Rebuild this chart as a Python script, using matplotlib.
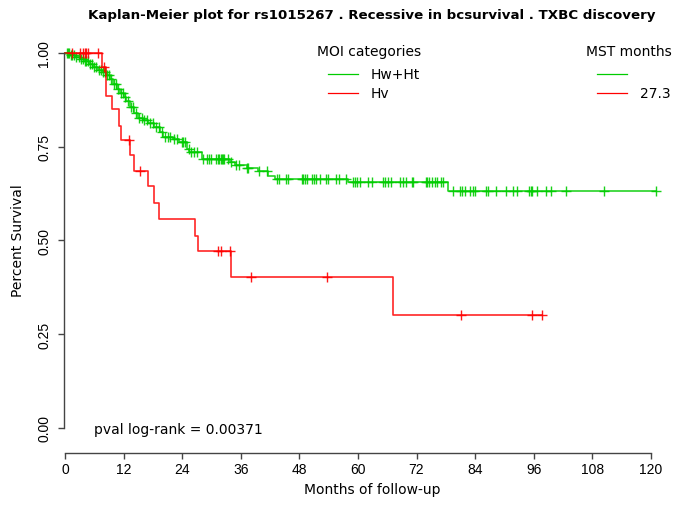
import numpy as np
import matplotlib.pyplot as plt
from matplotlib.lines import Line2D

plt.rcParams['font.family'] = ['DejaVu Sans']

# curva Hw+Ht: istanti dei gradini (mesi) e sopravvivenza dopo ogni gradino
green_t = [0, 1.0, 2.0, 3.0, 4.0, 5.0, 5.8, 6.8, 7.8, 8.5, 9.2, 9.9, 10.6, 11.3, 12.0,
           12.6, 13.4, 14.2, 15.0, 16.0, 17.0, 18.2, 19.5, 20.1, 22.2, 23.4, 24.9,
           25.5, 28.0, 33.8, 34.8, 37.2, 39.6, 41.6, 43.0, 58.0, 78.5]
green_s = [1.0, 0.995, 0.990, 0.984, 0.978, 0.970, 0.962, 0.955, 0.949, 0.940, 0.931,
           0.918, 0.904, 0.893, 0.883, 0.873, 0.856, 0.840, 0.826, 0.820, 0.812, 0.802,
           0.789, 0.777, 0.771, 0.762, 0.744, 0.737, 0.717, 0.708, 0.702, 0.692, 0.684,
           0.673, 0.663, 0.655, 0.633]
green_end = 121.0
green_cens = [0.4, 0.6, 0.9, 1.2, 1.5, 1.9, 2.3, 2.8, 3.2, 3.6, 4.0, 4.3, 4.7, 5.1, 5.5,
              6.0, 6.4, 6.9, 7.3, 7.8, 8.2, 8.7, 9.1, 9.5, 10.0, 10.4, 10.9, 11.4, 11.8,
              12.3, 12.9, 13.5, 14.0, 14.6, 15.1, 15.7, 16.2, 16.8, 17.4, 18.0, 18.6,
              19.2, 19.8, 20.4, 21.0, 21.6, 22.3, 23.0, 23.9, 24.2, 24.6, 25.3, 25.9,
              26.4, 27.0, 28.3, 29.0, 29.6, 30.0, 30.9, 31.4, 31.6, 31.9, 32.1, 32.3,
              32.6, 33.4, 34.1, 35.0, 35.7, 37.2, 37.5, 39.8, 41.4, 43.4, 43.9, 45.3,
              45.7, 48.5, 48.8, 49.1, 49.5, 50.5, 51.0, 51.4, 52.2, 53.4, 53.9, 55.6,
              56.2, 57.6, 58.9, 59.4, 59.9, 60.4, 62.1, 62.8, 65.2, 65.5, 66.2, 66.7,
              68.6, 69.3, 69.8, 71.0, 71.3, 73.9, 74.2, 74.6, 75.1, 75.8, 76.1, 77.0,
              77.5, 79.4, 81.0, 81.4, 81.9, 82.9, 83.6, 84.0, 86.2, 86.7, 88.3, 90.3,
              91.7, 92.5, 95.1, 95.4, 95.6, 96.7, 98.6, 99.5, 102.6, 110.4, 121.0]

# curva Hv
red_t = [0, 7.6, 8.5, 9.6, 11.0, 11.4, 13.3, 14.1, 17.1, 18.2, 19.3, 26.7, 27.3, 34.1, 67.1]
red_s = [1.0, 0.962, 0.886, 0.851, 0.806, 0.768, 0.728, 0.686, 0.645, 0.600, 0.557,
         0.513, 0.471, 0.403, 0.301]
red_end = 97.8
red_cens = [1.4, 3.1, 3.6, 4.1, 4.4, 4.8, 6.7, 8.0, 13.1, 15.4, 31.4, 31.9, 33.7, 38.2,
            53.6, 81.2, 95.6, 97.8]

groups = ['Hw+Ht', 'Hv']
mst = ['', '27.3']
colori = ['#00cc00', '#ff0000']
pval = 0.00371

W, H = 677, 506
fig = plt.figure(figsize=(W / 100, H / 100), dpi=100)

# assi in pixel: sinistra 64, destra 666, alto 39, basso 454
ax = fig.add_axes([64 / W, (H - 454) / H, (666 - 64) / W, (454 - 39) / H])
ax.set_xlim(-0.2, 123.1)
ax.set_ylim(-0.0667, 1.04)


def km(ax, t, s, end, cens, col):
    tt = list(t) + [end]
    ss = list(s) + [s[-1]]
    ax.step(tt, ss, where='post', color=col, lw=1.2, alpha=0.85)
    idx = np.searchsorted(np.array(t), np.array(cens), side='right') - 1
    ax.plot(cens, np.array(s)[idx], '+', color=col, ms=7, mew=1.0, alpha=0.9)


km(ax, green_t, green_s, green_end, green_cens, colori[0])
km(ax, red_t, red_s, red_end, red_cens, colori[1])

for sp in ['top', 'right']:
    ax.spines[sp].set_visible(False)
ax.spines['left'].set_bounds(0, 1)
ax.spines['bottom'].set_bounds(0, 120)
for sp in ['left', 'bottom']:
    ax.spines[sp].set_color('#444444')
    ax.spines[sp].set_linewidth(1.0)

ax.set_xticks(np.arange(0, 121, 12))
ax.set_yticks([0, 0.25, 0.5, 0.75, 1.0])
ax.set_yticklabels(['0.00', '0.25', '0.50', '0.75', '1.00'], rotation=90, va='center')
ax.tick_params(length=4.3, width=1.0, color='#444444', labelsize=10,
               labelfontfamily='Liberation Sans')
ax.tick_params(axis='x', pad=2.5)
ax.tick_params(axis='y', pad=5)

def px(x, y):
    return x / W, 1 - y / H

fig.text(*px(372, 15), 'Kaplan-Meier plot for rs1015267 . Recessive in bcsurvival . TXBC discovery',
         ha='center', va='center', fontsize=9.6, fontweight='bold')
fig.text(*px(372, 490), 'Months of follow-up', ha='center', va='center', fontsize=10)
fig.text(*px(18, 241), 'Percent Survival', ha='center', va='center', fontsize=10, rotation=90)
fig.text(*px(94, 430), f'pval log-rank = {pval}', ha='left', va='center', fontsize=10)

# legenda
fig.text(*px(369, 52), 'MOI categories', ha='center', va='center', fontsize=10)
fig.text(*px(586, 52), 'MST months', ha='left', va='center', fontsize=10)
for i, g in enumerate(groups):
    y = 75 + i * 19
    for x0, x1 in [(328, 358), (597, 627)]:
        fig.add_artist(Line2D([x0 / W, x1 / W], [1 - y / H, 1 - y / H], color=colori[i], lw=0.9))
    fig.text(*px(371, y), g, ha='left', va='center', fontsize=10)
    fig.text(*px(640, y), mst[i], ha='left', va='center', fontsize=10)

fig.savefig('out.png', dpi=100)
